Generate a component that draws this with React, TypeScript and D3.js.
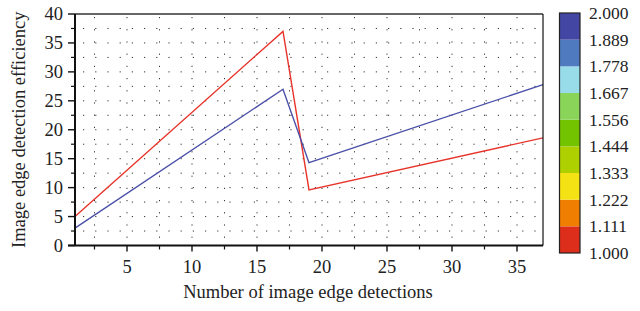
import React from "react";
import * as d3 from "d3";

const redX = [1, 17, 19, 37];
const redY = [5, 37, 9.6, 18.6];
const blueX = [1, 17, 19, 37];
const blueY = [3, 27, 14.3, 27.8];
const xTicks = [5, 10, 15, 20, 25, 30, 35];
const yTicks = [0, 5, 10, 15, 20, 25, 30, 35, 40];
const minorX = [2.5, 7.5, 12.5, 17.5, 22.5, 27.5, 32.5];
const minorY = [2.5, 7.5, 12.5, 17.5, 22.5, 27.5, 32.5, 37.5];
const cbLabels = ["1.000", "1.111", "1.222", "1.333", "1.444", "1.556", "1.667", "1.778", "1.889", "2.000"];
const cbColors = ["#dd2e1c", "#f07e00", "#f5e215", "#aed000", "#74c300", "#8bd45a", "#98dbe9", "#4f7ac0", "#4347a3"];

const FONT = "'Liberation Serif', 'DejaVu Serif', serif";

export default function App() {
  const L = 75, R = 543, T = 14, B = 245.5;
  const x = d3.scaleLinear().domain([1, 37]).range([L, R]);
  const y = d3.scaleLinear().domain([0, 40]).range([B, T]);
  const redPath = d3.line<number>().x((_, i) => x(redX[i])).y((d) => y(d))(redY) || "";
  const bluePath = d3.line<number>().x((_, i) => x(blueX[i])).y((d) => y(d))(blueY) || "";
  const gridX = d3.range(2.5, 37, 2.5);
  const gridY = d3.range(2.5, 40, 2.5);
  const cbTop = 13, cbBot = 253, cbL = 559.5, cbR = 580;
  const cb = d3.scaleLinear().domain([0, 9]).range([cbBot, cbTop]);
  return (
    <svg width={640} height={311} style={{ position: "absolute", left: 0, top: 0, background: "#fff" }} fontFamily={FONT}>
      <rect x={0} y={0} width={640} height={311} fill="#fff" />
      {gridY.map((v) => (
        <line key={"gy" + v} x1={L + 8} x2={R} y1={y(v)} y2={y(v)} stroke="#333" strokeWidth={1} strokeDasharray="1.2 11" />
      ))}
      {gridX.map((v) => (
        <line key={"gx" + v} x1={x(v)} x2={x(v)} y1={T + 3} y2={B} stroke="#333" strokeWidth={1} strokeDasharray="1.2 11" />
      ))}
      <path d={redPath} fill="none" stroke="#e8332a" strokeWidth={1.4} />
      <path d={bluePath} fill="none" stroke="#4a50a8" strokeWidth={1.4} />
      <line x1={L} x2={R} y1={T} y2={T} stroke="#333" strokeWidth={1.6} />
      <line x1={R} x2={R} y1={T} y2={B} stroke="#111" strokeWidth={1.2} />
      <line x1={L} x2={L} y1={T} y2={B} stroke="#111" strokeWidth={2} />
      <line x1={L - 7} x2={R} y1={B} y2={B} stroke="#111" strokeWidth={2} />
      {yTicks.map((v) => (
        <g key={"yt" + v}>
          <line x1={L - 7} x2={L} y1={y(v)} y2={y(v)} stroke="#111" strokeWidth={1.4} />
          <text x={L - 12} y={y(v)} dy="0.35em" textAnchor="end" fontSize={18.5} fill="#222">{v}</text>
        </g>
      ))}
      {minorY.map((v) => (
        <line key={"ym" + v} x1={L - 4} x2={L} y1={y(v)} y2={y(v)} stroke="#111" strokeWidth={1.2} />
      ))}
      {xTicks.map((v) => (
        <g key={"xt" + v}>
          <line x1={x(v)} x2={x(v)} y1={B} y2={B + 6} stroke="#111" strokeWidth={1.4} />
          <text x={x(v)} y={B + 27} textAnchor="middle" fontSize={18.5} fill="#222">{v}</text>
        </g>
      ))}
      {minorX.map((v) => (
        <line key={"xm" + v} x1={x(v)} x2={x(v)} y1={B} y2={B + 4} stroke="#111" strokeWidth={1.2} />
      ))}
      <text x={(L + R) / 2 - 1} y={298} textAnchor="middle" fontSize={18.5} fill="#222">Number of image edge detections</text>
      <text transform={`translate(25, ${(T + B) / 2}) rotate(-90)`} textAnchor="middle" fontSize={18.5} fill="#222">Image edge detection efficiency</text>
      {cbColors.map((c, i) => (
        <rect key={"cb" + i} x={cbL} width={cbR - cbL} y={cb(i + 1)} height={cb(i) - cb(i + 1)} fill={c} />
      ))}
      <rect x={cbL} y={cbTop} width={cbR - cbL} height={cbBot - cbTop} fill="none" stroke="#222" strokeWidth={1.2} />
      {cbLabels.map((t, i) => (
        <text key={"cl" + i} x={589} y={cb(i)} dy="0.35em" fontSize={17.5} fill="#222">{t}</text>
      ))}
    </svg>
  );
}
